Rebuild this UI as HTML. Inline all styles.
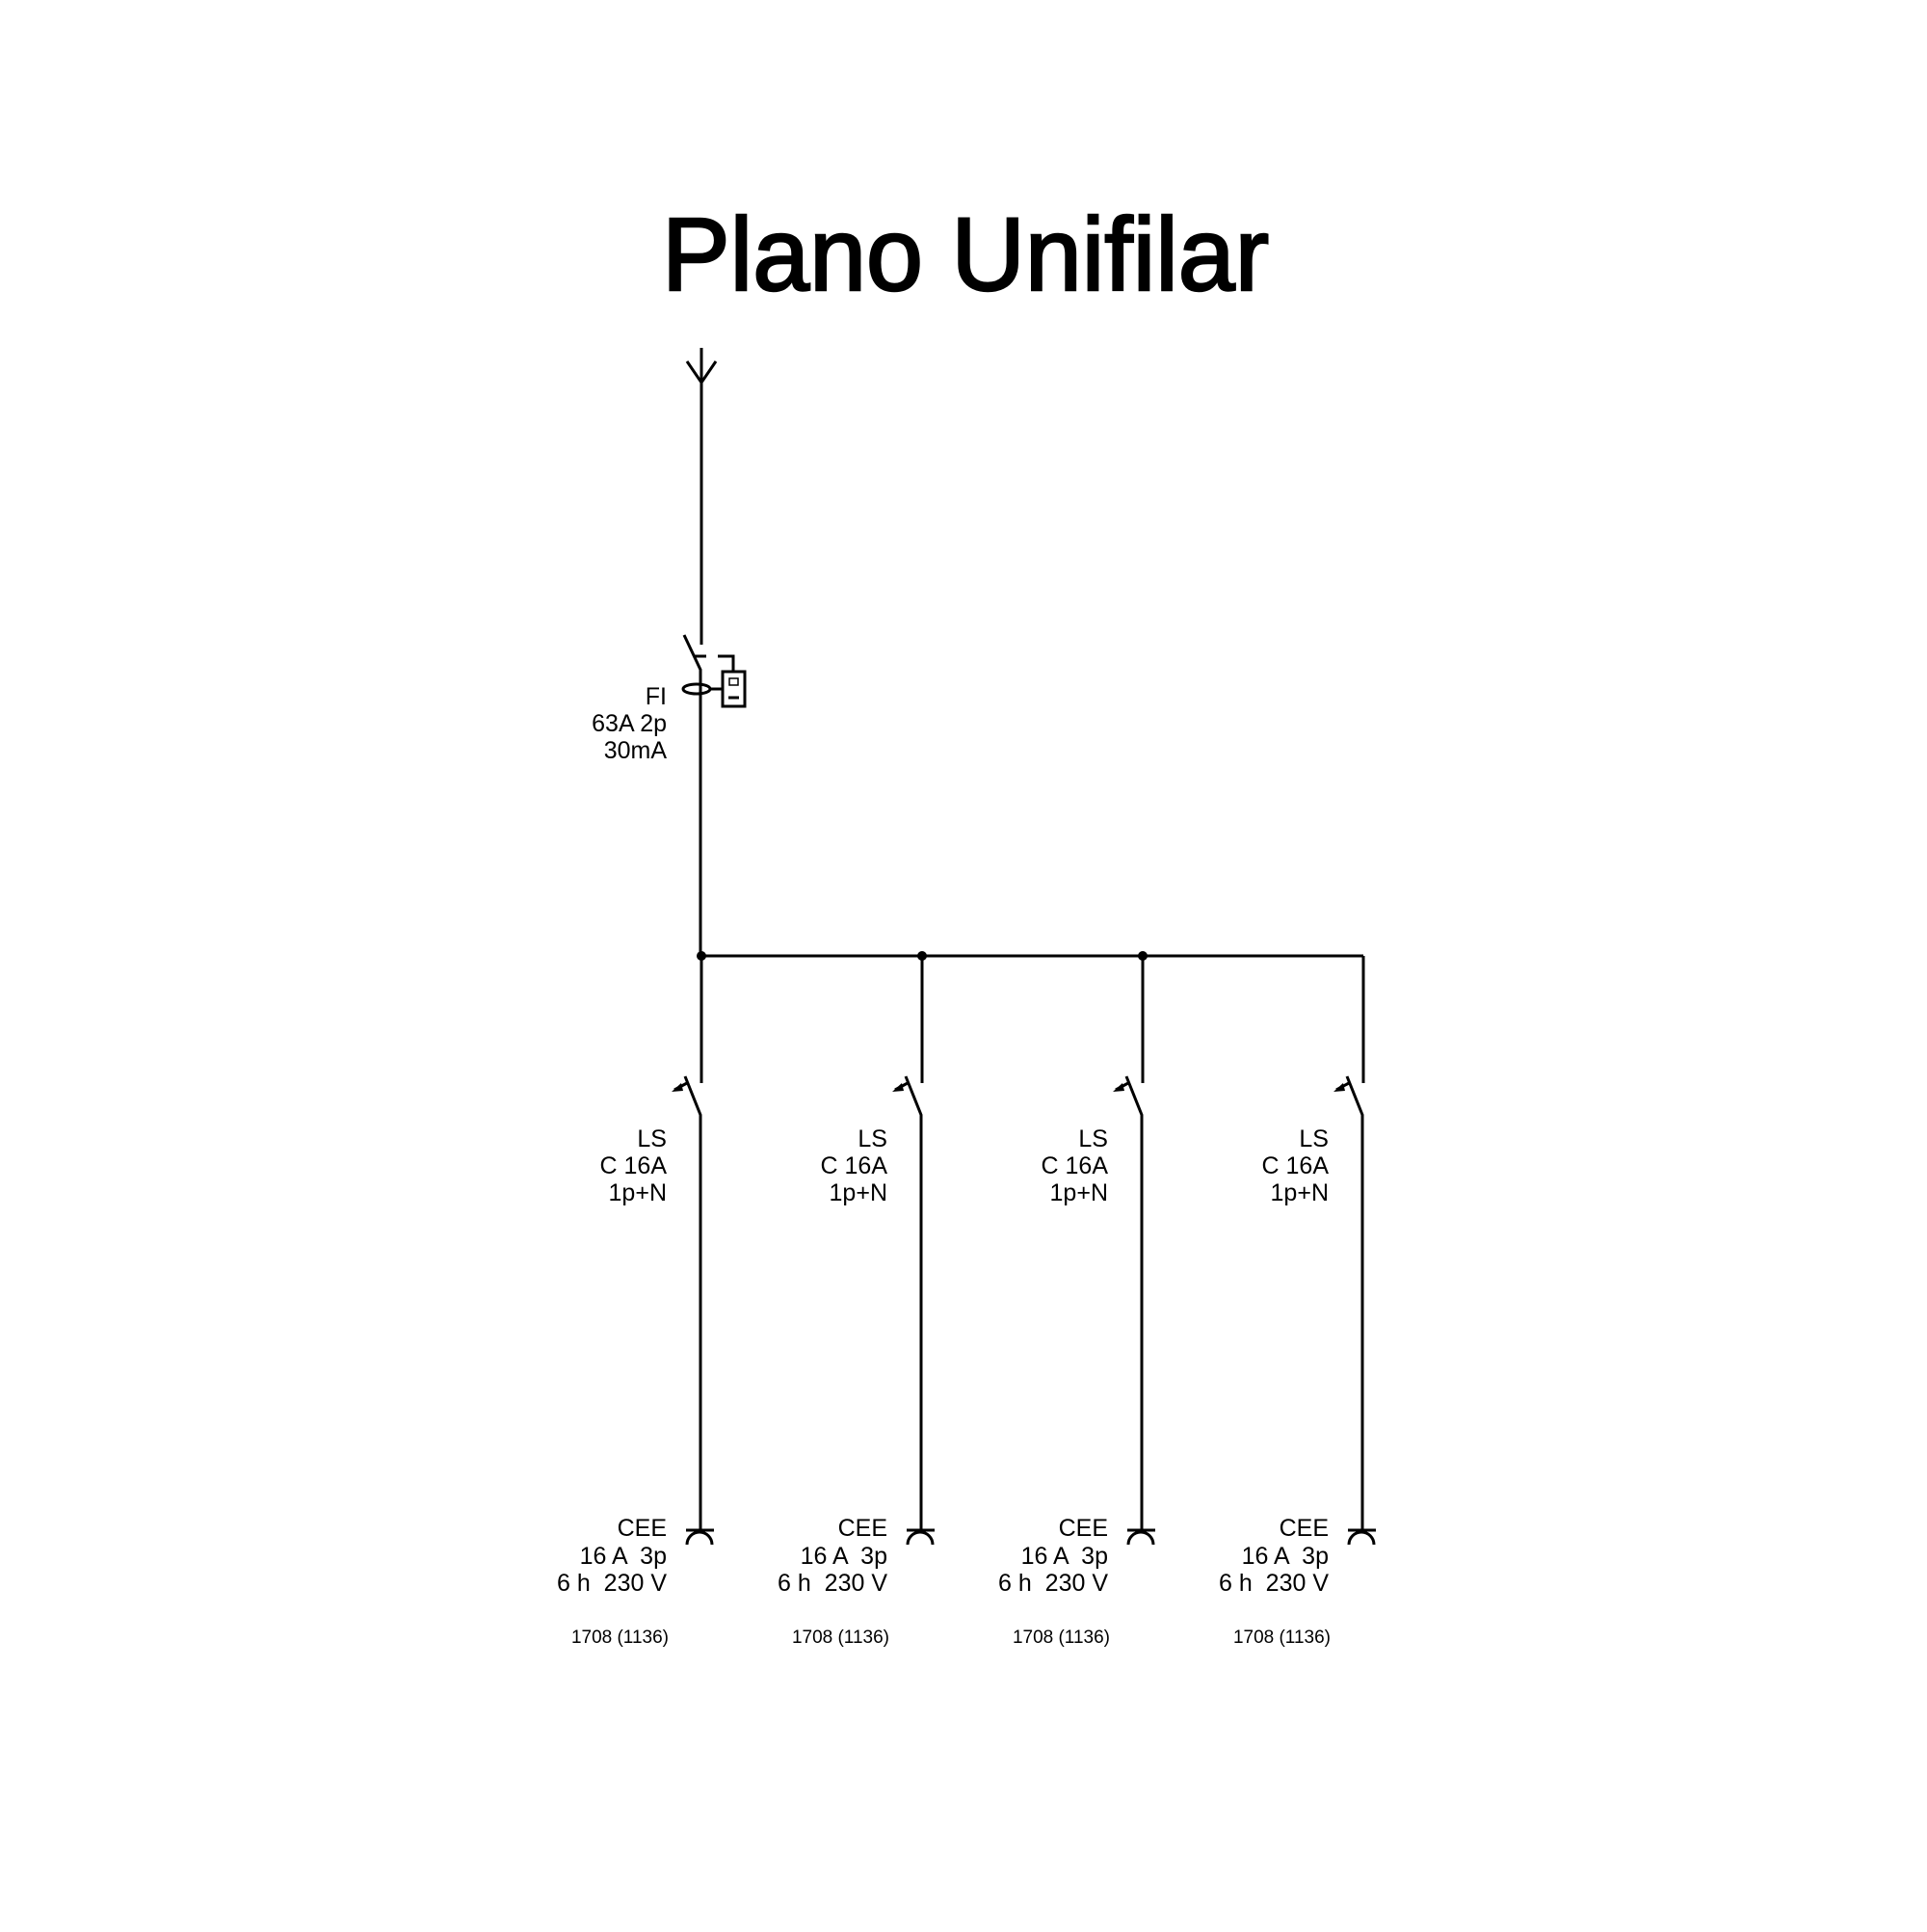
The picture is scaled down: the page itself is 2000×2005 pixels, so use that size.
<!DOCTYPE html>
<html><head><meta charset="utf-8"><style>html,body{margin:0;padding:0;background:#fff}text{white-space:pre}</style></head>
<body>
<svg width="2000" height="2000" viewBox="0 0 2000 2000" xmlns="http://www.w3.org/2000/svg" font-family="Liberation Sans, sans-serif" xml:space="preserve">
<text x="1002" y="301" font-size="108" font-weight="normal" stroke="#000" stroke-width="2.5" text-anchor="middle" textLength="630" lengthAdjust="spacingAndGlyphs" fill="#000">Plano Unifilar</text>
<g stroke="#000" stroke-width="3" fill="none">
<path d="M728 361 V669 M713 375 L728 397 L743 375"/>
<path d="M710 659 L727 695 V992"/>
<path d="M720 681 H733 M745 681 H761 V697"/>
<rect x="750" y="697" width="23" height="36"/>
<path d="M756 724 H767"/>
<rect x="757" y="704" width="9" height="7" stroke-width="1.5"/>
<ellipse cx="723" cy="715" rx="14" ry="5"/>
<path d="M737 715 H750"/>
<path d="M728 992 H1415"/>
</g>
<g fill="#000"><circle cx="728" cy="992" r="5"/><circle cx="957" cy="992" r="5"/><circle cx="1186" cy="992" r="5"/></g>
<g font-size="25" fill="#000" text-anchor="end">
<text x="692" y="731">FI</text><text x="692" y="759">63A 2p</text><text x="692" y="787">30mA</text>
</g>
<defs>
<g id="br">
<g stroke="#000" stroke-width="3" fill="none">
<path d="M728 992 V1124"/>
<path d="M711 1117 L727 1157 V1587"/>
<path d="M712 1588 H741"/>
<path d="M713 1603 A13 13 0 0 1 739 1603"/>
<path d="M700 1131 L713 1124"/>
</g>
<path d="M697 1133 L707 1124 L709 1132 Z" fill="#000"/>
<g font-size="25" fill="#000" text-anchor="end">
<text x="692" y="1190">LS</text><text x="692" y="1218">C 16A</text><text x="692" y="1246">1p+N</text>
<text x="692" y="1594">CEE</text><text x="692" y="1623">16 A  3p</text><text x="692" y="1651">6 h  230 V</text>
<text x="694" y="1705" font-size="19">1708 (1136)</text>
</g>
</g>
</defs>
<use href="#br"/>
<use href="#br" x="229"/>
<use href="#br" x="458"/>
<use href="#br" x="687"/>
</svg>
</body></html>
